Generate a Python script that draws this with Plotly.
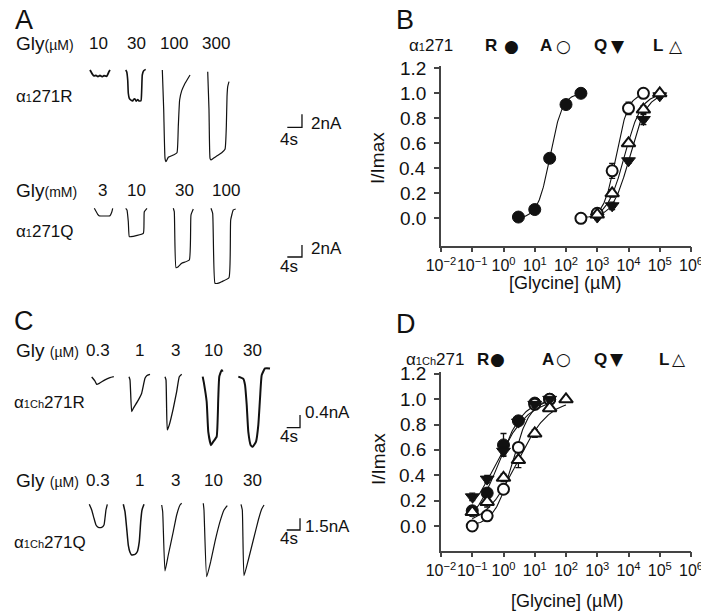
import numpy as np
import plotly.graph_objects as go

# target picture size; the page body adds an 8 px margin, so the figure is drawn 8 px smaller
W, H = 709, 616
OFF = 8
FW, FH = W - OFF, H - OFF
FONT = "Liberation Sans, Arial, sans-serif"
INK = "#111111"
AXC = "#444444"

# ---------------- Panel B : alpha1 271 mutants (glycine, uM) ----------------
B_conc_R = [3, 10, 30, 100, 300]
B_resp_R = [0.01, 0.07, 0.48, 0.91, 1.00]
B_err_R = [0.01, 0.01, 0.02, 0.02, 0.0]
B_conc_A = [300, 1000, 3000, 10000, 30000]
B_resp_A = [0.00, 0.04, 0.38, 0.88, 1.00]
B_err_A = [0.0, 0.02, 0.06, 0.05, 0.0]
B_conc_Q = [1000, 3000, 10000, 30000, 100000]
B_resp_Q = [0.01, 0.10, 0.46, 0.79, 0.98]
B_err_Q = [0.02, 0.03, 0.02, 0.04, 0.02]
B_conc_L = [1000, 3000, 10000, 30000, 100000]
B_resp_L = [0.03, 0.20, 0.60, 0.87, 1.00]
B_err_L = [0.02, 0.03, 0.02, 0.03, 0.0]
B_fit_ec50 = [31, 4000, 11000, 7500]       # R, A, Q, L
B_fit_nh = [2.2, 2.2, 1.6, 1.6]

# ---------------- Panel D : alpha1Ch 271 mutants ----------------
D_conc_R = [0.1, 0.3, 1, 3, 10, 30]
D_resp_R = [0.12, 0.26, 0.64, 0.83, 0.97, 1.00]
D_err_R = [0.02, 0.03, 0.09, 0.03, 0.02, 0.0]
D_conc_A = [0.1, 0.3, 1, 3, 10, 30]
D_resp_A = [0.00, 0.08, 0.29, 0.62, 0.96, 1.00]
D_err_A = [0.01, 0.02, 0.03, 0.03, 0.02, 0.0]
D_conc_Q = [0.1, 0.3, 1, 3, 10, 30]
D_resp_Q = [0.23, 0.37, 0.59, 0.82, 0.96, 1.00]
D_err_Q = [0.03, 0.03, 0.03, 0.02, 0.02, 0.0]
D_conc_L = [0.1, 0.3, 1, 3, 10, 30, 100]
D_resp_L = [0.11, 0.19, 0.38, 0.52, 0.73, 0.93, 1.00]
D_err_L = [0.02, 0.04, 0.03, 0.06, 0.03, 0.02, 0.0]
D_fit_ec50 = [0.7, 1.9, 0.6, 2.7]
D_fit_nh = [1.1, 1.5, 0.85, 0.85]

x_tick_vals = [1e-2, 1e-1, 1e0, 1e1, 1e2, 1e3, 1e4, 1e5, 1e6]
x_tick_text = ["10<sup>\u22122</sup>", "10<sup>\u22121</sup>", "10<sup>0</sup>", "10<sup>1</sup>",
               "10<sup>2</sup>", "10<sup>3</sup>", "10<sup>4</sup>", "10<sup>5</sup>", "10<sup>6</sup>"]
y_tick_vals = [0.0, 0.2, 0.4, 0.6, 0.8, 1.0, 1.2]
y_tick_text = ["0.0", "0.2", "0.4", "0.6", "0.8", "1.0", "1.2"]

# ---------------- Current traces (time in s from application start, current in nA) ----------------
# Panel A, alpha1 271R, Gly (uM)
AR_labels = ["10", "30", "100", "300"]
AR_t0 = [0.54, 10.27, 20.25, 32.62]
AR_t = [
    [0, 0.63, 1.09, 1.63, 2.18, 2.72, 3.27, 3.81, 4.55, 5.18, 5.45],
    [0, 0.27, 0.55, 0.71, 0.98, 1.44, 1.9, 2.2, 2.53, 2.9, 3.3, 3.62, 4.17, 4.36, 4.52, 4.9, 5.45],
    [0, 0.38, 0.74, 1.01, 1.63, 2.99, 3.99, 4.35, 4.72, 5.29, 6.0, 6.73, 7.55],
    [0, 0.35, 0.63, 0.9, 1.53, 2.45, 3.81, 4.71, 5.07, 5.26, 5.45, 5.8],
]
AR_i = [
    [0, -0.62, -0.92, -0.82, -1.0, -0.85, -1.03, -0.88, -0.97, -0.26, 0],
    [0, -0.26, -1.54, -3.58, -4.35, -4.62, -4.75, -4.5, -4.46, -4.8, -4.55, -4.77, -4.72, -3.08, -0.77, -0.1, 0.1],
    [0, -6.15, -13.59, -14.1, -13.43, -13.08, -12.72, -8.72, -4.62, -3.18, -2.26, -1.54, -0.77],
    [-0.26, -6.15, -13.59, -13.85, -13.59, -13.23, -12.72, -12.2, -8.72, -4.1, -2.56, -1.8],
]
# Panel A, alpha1 271Q, Gly (mM)
AQ_labels = ["3", "10", "30", "100"]
AQ_t0 = [1.72, 10.27, 23.24, 33.51]
AQ_t = [
    [0, 0.93, 1.28, 4.28, 4.74, 5.01],
    [0, 0.35, 0.71, 0.98, 1.44, 4.8, 4.99, 5.07, 5.8],
    [0, 0.27, 0.74, 1.36, 2.29, 4.36, 4.82, 5.45],
    [0, 0.46, 1.09, 1.83, 2.92, 4.9, 5.37, 6.08, 6.73],
]
AQ_i = [
    [0, -1.0, -1.23, -1.23, -0.67, 0],
    [0, -0.28, -2.23, -4.73, -4.73, -4.17, -2.23, -0.57, 0],
    [0, -0.57, -9.9, -9.73, -9.17, -8.62, -1.12, -0.12],
    [0, -0.83, -12.5, -12.5, -12.23, -11.57, -1.95, -0.28, -0.12],
]
# Panel C, alpha1Ch 271R, Gly (uM)
CR_labels = ["0.3", "1", "3", "10", "30"]
CR_t0 = [1.11, 12.31, 23.12, 34.44, 45.14]
CR_t = [
    [0, 0.99, 1.5, 2.28, 3.99, 5.5, 6.64],
    [0, 0.3, 0.81, 1.29, 2.79, 3.81, 4.8, 5.32, 6.31],
    [0, 0.3, 0.69, 1.29, 2.49, 3.51, 4.29, 5.02],
    [0, 0.39, 1.2, 1.68, 2.49, 3.18, 4.2, 4.68, 4.98, 5.71, 6.01],
    [0, 1.5, 2.01, 2.52, 3.0, 3.72, 4.32, 5.32, 6.01, 6.52, 7.03, 8.02, 9.52],
]
CR_i = [
    [0, -0.13, -0.23, -0.2, -0.09, -0.02, 0.01],
    [0.01, -0.09, -1.09, -0.99, -0.73, -0.51, -0.04, 0.04, 0.08],
    [0.01, -0.09, -1.67, -1.51, -0.99, -0.46, 0.01, 0.09],
    [0.01, -0.2, -0.78, -1.73, -2.15, -2.04, -1.88, -0.67, 0.01, 0.22, 0.17],
    [0.01, -0.06, -0.25, -0.88, -1.73, -2.15, -2.2, -2.04, -1.51, -0.67, 0.06, 0.27, 0.27],
]
# Panel C, alpha1Ch 271Q, Gly (uM)
CQ_labels = ["0.3", "1", "3", "10", "30"]
CQ_t0 = [0.39, 10.6, 22.13, 34.62, 45.95]
CQ_t = [
    [0, 0.72, 1.41, 2.01, 2.7, 3.72, 4.41, 4.71, 5.01, 5.41],
    [0, 0.51, 1.02, 1.5, 2.01, 2.52, 3.51, 4.2, 4.8, 5.23, 5.62, 6.22],
    [0, 0.3, 0.99, 1.98, 3.48, 4.5, 5.5, 6.0],
    [0, 0.21, 1.02, 2.22, 3.51, 5.02, 6.22, 7.21],
    [0, 0.39, 0.9, 2.19, 3.69, 5.2, 6.22, 6.91],
]
CQ_i = [
    [0, -0.73, -1.79, -2.65, -2.95, -2.95, -2.65, -1.79, -0.73, 0],
    [0, -0.95, -3.08, -5.22, -6.15, -6.5, -6.41, -6.08, -4.79, -2.23, -0.73, 0],
    [-0.09, -0.95, -8.55, -6.5, -3.51, -1.37, -0.09, 0.13],
    [0.13, -0.73, -9.28, -7.36, -4.79, -2.23, -0.73, -0.18],
    [0, -0.73, -9.15, -7.14, -4.58, -2.01, -0.6, -0.09],
]
# scale bars: (time s, current nA)
AR_scale = (4, 2)
AQ_scale = (4, 2)
CR_scale = (4, 0.4)
CQ_scale = (4, 1.5)

fig = go.Figure()


def hill(x, ec50, nh):
    return 1.0 / (1.0 + (ec50 / x) ** nh)


def pxx(p):
    return (p - OFF) / FW


def pxy(p):
    return 1 - (p - OFF) / FH


# ---------- dose-response panels ----------
def add_dr(xa, ya, conc_list, resp_list, err_list, ec50s, nhs):
    styles = [
        dict(symbol="circle", size=12, color=INK, line=dict(color=INK, width=1)),
        dict(symbol="circle", size=11, color="white", line=dict(color=INK, width=2)),
        dict(symbol="triangle-down", size=12, color=INK, line=dict(color=INK, width=1)),
        dict(symbol="triangle-up", size=12, color="white", line=dict(color=INK, width=2)),
    ]
    for conc, e, n in zip(conc_list, ec50s, nhs):
        xs = np.logspace(np.log10(min(conc)), np.log10(max(conc)), 120)
        fig.add_trace(go.Scatter(x=xs, y=hill(xs, e, n), mode="lines", xaxis=xa, yaxis=ya,
                                 line=dict(color=INK, width=1.1), hoverinfo="skip"))
    for conc, resp, err, st in zip(conc_list, resp_list, err_list, styles):
        fig.add_trace(go.Scatter(x=conc, y=resp, mode="markers", xaxis=xa, yaxis=ya,
                                 marker=st,
                                 error_y=dict(type="data", array=err, color=INK, thickness=1.3, width=3)))


add_dr("x", "y", [B_conc_R, B_conc_A, B_conc_Q, B_conc_L], [B_resp_R, B_resp_A, B_resp_Q, B_resp_L],
       [B_err_R, B_err_A, B_err_Q, B_err_L], B_fit_ec50, B_fit_nh)
add_dr("x2", "y2", [D_conc_R, D_conc_A, D_conc_Q, D_conc_L], [D_resp_R, D_resp_A, D_resp_Q, D_resp_L],
       [D_err_R, D_err_A, D_err_Q, D_err_L], D_fit_ec50, D_fit_nh)


# pixel geometry of the two dose-response plots
B_top, B_bottom, B_zero, B_k = 66.0, 245.5, 218.3, 125.0
D_top, D_bottom, D_zero, D_k = 372.0, 550.5, 526.0, 126.7


def dr_axes(top_px, bottom_px, zero_px, px_per_unit):
    ydom = [pxy(bottom_px), pxy(top_px)]
    yr = [-(bottom_px - zero_px) / px_per_unit, (zero_px - top_px) / px_per_unit]
    return ydom, yr


xdom_dr = [pxx(441), pxx(691)]
B_ydom, B_yr = dr_axes(B_top, B_bottom, B_zero, B_k)
D_ydom, D_yr = dr_axes(D_top, D_bottom, D_zero, D_k)

common_x = dict(type="log", range=[-2, 6], tickmode="array", tickvals=x_tick_vals, ticktext=x_tick_text,
                tickangle=0, showline=True, linecolor=AXC, linewidth=1.5, ticks="outside", ticklen=5,
                tickwidth=1.5, tickcolor=AXC, showgrid=False, zeroline=False, automargin=False,
                ticklabeloverflow="allow",
                tickfont=dict(family=FONT, size=16, color=INK), domain=xdom_dr)
common_y = dict(tickmode="array", tickvals=y_tick_vals, showticklabels=False, showline=True, linecolor=AXC,
                linewidth=1.5, ticks="outside", ticklen=5, tickwidth=1.5, tickcolor=AXC, showgrid=False,
                zeroline=False, automargin=False)

layout = dict(
    template="none",
    width=FW, height=FH, margin=dict(l=0, r=0, t=0, b=0, autoexpand=False),
    paper_bgcolor="white", plot_bgcolor="rgba(0,0,0,0)",
    showlegend=False, font=dict(family=FONT, color=INK),
    xaxis=dict(common_x, anchor="y"),
    yaxis=dict(common_y, anchor="x", domain=B_ydom, range=B_yr),
    xaxis2=dict(common_x, anchor="y2"),
    yaxis2=dict(common_y, anchor="x2", domain=D_ydom, range=D_yr),
)

# ---------- current-trace rows ----------
rows = [
    # name, t0 list, t, i, scale, box(px l,t,r,b), origin px, px per s, px per nA, scalebar anchor px, widths
    ("AR", AR_t0, AR_t, AR_i, AR_scale, (80, 60, 360, 178), (88, 70.0), 3.67, 6.5, (287.3, 127.3), [1.8, 1.6, 1.2, 1.2]),
    ("AQ", AQ_t0, AQ_t, AQ_i, AQ_scale, (80, 198, 360, 295), (88, 208.3), 3.67, 6.0, (287.3, 257.0), [1.2, 1.2, 1.2, 1.2]),
    ("CR", CR_t0, CR_t, CR_i, CR_scale, (80, 360, 370, 460), (88, 377.0), 3.33, 31.7, (286.7, 427.7), [1.3, 1.3, 1.3, 2.0, 2.0]),
    ("CQ", CQ_t0, CQ_t, CQ_i, CQ_scale, (80, 492, 370, 590), (88, 504.3), 3.33, 7.8, (286.7, 530.0), [1.3, 1.5, 1.2, 1.2, 1.2]),
]

for k, (name, t0s, ts, iis, scale, box, org, kt, ki, sb, widths) in enumerate(rows):
    ax_n = k + 3
    xa, ya = f"x{ax_n}", f"y{ax_n}"
    l, t, r, b = box
    ox, oy = org
    layout[f"xaxis{ax_n}"] = dict(domain=[pxx(l), pxx(r)], range=[(l - ox) / kt, (r - ox) / kt],
                                  visible=False, anchor=ya, fixedrange=True)
    layout[f"yaxis{ax_n}"] = dict(domain=[pxy(b), pxy(t)], range=[-(b - oy) / ki, (oy - t) / ki],
                                  visible=False, anchor=xa, fixedrange=True)
    for t0, tt, ii, w in zip(t0s, ts, iis, widths):
        fig.add_trace(go.Scatter(x=[t0 + v for v in tt], y=ii, mode="lines", xaxis=xa, yaxis=ya,
                                 line=dict(color=INK, width=w, shape="spline", smoothing=0.4),
                                 hoverinfo="skip"))
    sx = (sb[0] - ox) / kt
    sy = -(sb[1] - oy) / ki
    fig.add_trace(go.Scatter(x=[sx, sx + scale[0], sx + scale[0]], y=[sy, sy, sy + scale[1]],
                             mode="lines", xaxis=xa, yaxis=ya, line=dict(color=INK, width=1.3),
                             hoverinfo="skip"))

fig.update_layout(**layout)

# ---------- text ----------
ann = []


def txt(s, x, y, size=16, anchor="center", angle=0, fam=FONT):
    ann.append(dict(text=s, x=pxx(x), y=pxy(y), xref="paper", yref="paper", showarrow=False,
                    xanchor=anchor, yanchor="middle", textangle=angle,
                    font=dict(family=fam, size=size, color=INK)))


SMALL1 = "<span style='font-size:11px'>1</span>"
SMALL1CH = "<span style='font-size:11px'>1Ch</span>"
UNIT_UM = "<span style='font-size:14px'>(\u00b5M)</span>"
UNIT_MM = "<span style='font-size:14px'>(mM)</span>"

# y tick labels of the dose-response plots, placed with the same value->pixel scale as the axes
for v, s in zip(y_tick_vals, y_tick_text):
    txt(s, 428, B_zero - v * B_k, 19, "right")
    txt(s, 428, D_zero - v * D_k, 19, "right")

# panel letters
txt("A", 13, 20, 27, "left")
txt("B", 394, 20, 27, "left")
txt("C", 12, 321, 27, "left")
txt("D", 394, 324, 27, "left")

# panel A labels
txt("Gly" + UNIT_UM, 14, 43.5, 19, "left")
for lab, x in zip(AR_labels, [98, 136.7, 174, 216]):
    txt(lab, x, 43.5, 17)
txt("\u03b1" + SMALL1 + "271R", 14, 96, 17, "left")
txt("Gly" + UNIT_MM, 14, 190, 19, "left")
for lab, x in zip(AQ_labels, [102, 136.3, 184, 226]):
    txt(lab, x, 190, 17)
txt("\u03b1" + SMALL1 + "271Q", 14, 231, 17, "left")
txt("2nA", 309, 124, 17, "left")
txt("4s", 289, 140, 17)
txt("2nA", 309, 248.5, 17, "left")
txt("4s", 289, 266, 17)

# panel C labels
txt("Gly " + UNIT_UM, 14, 350, 19, "left")
for lab, x in zip(CR_labels, [97.5, 139, 175, 213, 252]):
    txt(lab, x, 350, 17)
txt("\u03b1" + SMALL1CH + "271R", 12, 402, 17, "left")
txt("Gly " + UNIT_UM, 14, 480, 19, "left")
for lab, x in zip(CQ_labels, [97.5, 139, 175, 213, 252]):
    txt(lab, x, 480, 17)
txt("\u03b1" + SMALL1CH + "271Q", 12, 542, 17, "left")
txt("0.4nA", 303, 413, 17, "left")
txt("4s", 289, 436, 17)
txt("1.5nA", 303, 526, 17, "left")
txt("4s", 289, 538, 17)

# panel B / D legends
txt("\u03b1" + SMALL1 + "271", 407, 45.7, 17, "left")
for s, x in zip(["<b>R</b>", "<b>A</b>", "<b>Q</b>", "<b>L</b>"], [491, 546, 600, 658]):
    txt(s, x, 45.7, 17)
for s, x in zip(["\u25cf", "\u25cb", "\u25bc", "\u25b3"], [511.7, 563, 617.5, 675.5]):
    txt("<b>" + s + "</b>", x, 45.7, 17, fam="DejaVu Sans")
txt("\u03b1" + SMALL1CH + "271", 404, 359, 17, "left")
for s, x in zip(["<b>R</b>", "<b>A</b>", "<b>Q</b>", "<b>L</b>"], [483, 548, 600, 664]):
    txt(s, x, 359, 17)
for s, x in zip(["\u25cf", "\u25cb", "\u25bc", "\u25b3"], [497.5, 563, 616.7, 678.5]):
    txt("<b>" + s + "</b>", x, 359, 17, fam="DejaVu Sans")

# axis titles
txt("I/Imax", 377, 158, 19, angle=-90)
txt("I/Imax", 378, 459, 19, angle=-90)
txt("[Glycine] (\u00b5M)", 565, 283, 18)
txt("[Glycine] (\u00b5M)", 567, 601, 18)

fig.update_layout(annotations=ann)
fig.write_html("out.html")
